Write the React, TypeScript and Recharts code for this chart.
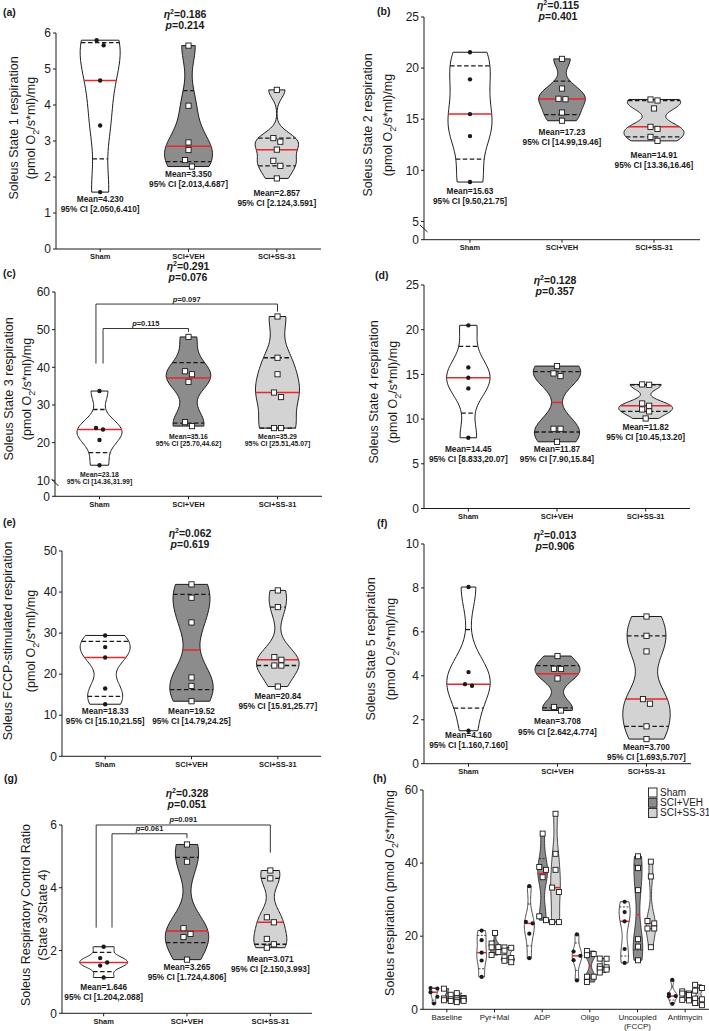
import React from 'react';
import { ComposedChart, Scatter, XAxis, YAxis } from 'recharts';

const GROUPS = ['Sham', 'SCI+VEH', 'SCI+SS-31'];
const STATES = ['Baseline', 'Pyr+Mal', 'ADP', 'Oligo', 'Uncoupled\n(FCCP)', 'Antimycin'];

// (a) State 1
const STATE1_SHAM = [5.8, 5.66, 4.68, 3.43, 1.58];
const STATE1_VEH = [5.65, 3.98, 2.96, 2.75, 2.47, 2.29];
const STATE1_SS31 = [4.42, 3.08, 2.98, 2.76, 2.45, 2.31, 1.96];
// (b) State 2
const STATE2_SHAM = [21.55, 18.9, 15.5, 13.35, 8.85];
const STATE2_VEH = [20.9, 18.0, 17.0, 16.95, 15.65, 14.85];
const STATE2_SS31 = [16.93, 16.83, 16.05, 14.25, 14.05, 13.27, 12.88];
// (c) State 3
const STATE3_SHAM = [33.7, 23.9, 23.5, 20.7, 14.0];
const STATE3_VEH = [48.07, 38.95, 38.16, 36.14, 25.44, 24.39];
const STATE3_SS31 = [53.5, 42.54, 38.16, 33.3, 32.1, 23.86, 23.86];
// (d) State 4
const STATE4_SHAM = [20.49, 15.78, 14.63, 13.43, 7.91];
const STATE4_VEH = [15.93, 15.11, 14.81, 8.92, 8.92, 7.46];
const STATE4_SS31 = [13.88, 13.84, 11.75, 11.49, 11.08, 10.86, 10.07];
// (e) FCCP
const FCCP_SHAM = [29.43, 26.59, 24.07, 16.5, 12.68];
const FCCP_VEH = [41.87, 38.62, 32.6, 19.19, 17.15, 13.41];
const FCCP_SS31 = [40.4, 36.34, 24.15, 23.5, 22.11, 22.11, 16.99];
// (f) State 5
const STATE5_SHAM = [8.04, 4.17, 3.62, 3.55, 1.5];
const STATE5_VEH = [4.9, 4.32, 4.31, 3.88, 2.58, 2.42];
const STATE5_SS31 = [6.7, 5.82, 5.11, 2.94, 2.73, 1.7, 1.12];
// (g) RCR
const RCR_SHAM = [2.12, 1.76, 1.62, 1.52, 1.14];
const RCR_VEH = [5.38, 4.83, 2.71, 2.53, 2.43, 1.71];
const RCR_SS31 = [4.55, 4.3, 3.06, 2.9, 2.37, 2.2, 2.09];

const STATE1_MEAN = ['4.230', '3.350', '2.857'];
const STATE1_CI = ['2.050,6.410', '2.013,4.687', '2.124,3.591'];
const STATE2_MEAN = ['15.63', '17.23', '14.91'];
const STATE2_CI = ['9.50,21.75', '14.99,19.46', '13.36,16.46'];
const STATE3_MEAN = ['23.18', '35.16', '35.29'];
const STATE3_CI = ['14.36,31.99', '25.70,44.62', '25.51,45.07'];
const STATE4_MEAN = ['14.45', '11.87', '11.82'];
const STATE4_CI = ['8.833,20.07', '7.90,15.84', '10.45,13.20'];
const FCCP_MEAN = ['18.33', '19.52', '20.84'];
const FCCP_CI = ['15.10,21.55', '14.79,24.25', '15.91,25.77'];
const STATE5_MEAN = ['4.160', '3.708', '3.700'];
const STATE5_CI = ['1.160,7.160', '2.642,4.774', '1.693,5.707'];
const RCR_MEAN = ['1.646', '3.265', '3.071'];
const RCR_CI = ['1.204,2.088', '1.724,4.806', '2.150,3.993'];

const ETA_SQ = ['0.186', '0.115', '0.291', '0.128', '0.062', '0.013', '0.328'];
const P_VALUES = ['0.214', '0.401', '0.076', '0.357', '0.619', '0.906', '0.051'];

const FONT = '"Liberation Sans", Arial, Helvetica, sans-serif';
const INK = '#1a1a1a';
const RED = '#e8262b';
const FILLS = ['#ffffff', '#8c8c8c', '#d3d3d3'];
const BW_FACTOR = 0.65;
const STEPS = 60;

const quantile = (s: number[], p: number) => {
    const n = s.length;
    const pos = (n + 1) * p;
    if (pos <= 1) return s[0];
    if (pos >= n) return s[n - 1];
    const lo = Math.floor(pos);
    return s[lo - 1] + (pos - lo) * (s[lo] - s[lo - 1]);
};

// kernel density, truncated at min/max like Prism
function violinStats(values: number[]) {
    const s = [...values].sort((a, b) => a - b);
    const n = s.length;
    const mean = s.reduce((a, b) => a + b, 0) / n;
    const sd = Math.sqrt(s.reduce((a, b) => a + (b - mean) ** 2, 0) / (n - 1));
    const q1 = quantile(s, 0.25);
    const med = quantile(s, 0.5);
    const q3 = quantile(s, 0.75);
    const spread = Math.min(sd, (q3 - q1) / 1.34) || sd;
    const h = BW_FACTOR * 0.9 * spread * Math.pow(n, -0.2);
    const dens = (v: number) => s.reduce((a, x) => a + Math.exp(-0.5 * ((v - x) / h) ** 2), 0);
    const lo = s[0];
    const hi = s[n - 1];
    const ys = Array.from({ length: STEPS + 1 }, (_, i) => lo + ((hi - lo) * i) / STEPS);
    const dmax = Math.max(...ys.map(dens));
    return { q1, med, q3, ys, rel: (v: number) => dens(v) / dmax };
}

// push apart markers that would overlap
function dodge(values: number[], pxY: number, step: number) {
    const idx = values.map((_, i) => i).sort((a, b) => values[b] - values[a]);
    const off = values.map(() => 0);
    for (let k = 1; k < idx.length; k++) {
        const cur = idx[k];
        const prev = idx[k - 1];
        if ((values[prev] - values[cur]) * pxY < step - 0.5) {
            if (off[prev] === 0) {
                off[prev] = -step / 2;
                off[cur] = step / 2;
            } else {
                off[cur] = -off[prev];
            }
        }
    }
    return off;
}

const Hidden = () => <g />;

const PANELS = [
    {
        groups: [STATE1_SHAM, STATE1_VEH, STATE1_SS31], means: STATE1_MEAN, cis: STATE1_CI,
        plot: { x: 55.5, y: 32.7, w: 265, h: 216 }, yDomain: [0, 6], yTicks: [0, 1, 2, 3, 4, 5, 6], broken: false,
        halfW: [20, 24, 21.7], labelAt: [1.38, 2.07, 1.55], labelGap: 10, labelSize: 8.3, brackets: [],
    },
    {
        groups: [STATE2_SHAM, STATE2_VEH, STATE2_SS31], means: STATE2_MEAN, cis: STATE2_CI,
        plot: { x: 424, y: 17.3, w: 276, h: 222.7 }, yDomain: [3.21, 25], yTicks: [3.21, 5, 10, 15, 20, 25], broken: true,
        halfW: [22, 23.3, 30], labelAt: [7.94, 13.71, 11.53], labelGap: 10, labelSize: 8.3, brackets: [],
    },
    {
        groups: [STATE3_SHAM, STATE3_VEH, STATE3_SS31], means: STATE3_MEAN, cis: STATE3_CI,
        plot: { x: 55, y: 291.7, w: 267, h: 204.3 }, yDomain: [5.75, 60], yTicks: [5.75, 10, 20, 30, 40, 50, 60], broken: true,
        halfW: [22.5, 22.3, 22], labelAt: [11.6, 21.7, 21.7], labelGap: 7.7, labelSize: 6.9,
        brackets: [
            { a: 0, b: 1, dxa: 0.04, dxb: 0, top: 50.3, footA: 41, footB: 49.4, p: '0.115' },
            { a: 0, b: 2, dxa: -0.04, dxb: 0, top: 56.8, footA: 41, footB: 54.8, p: '0.097' },
        ],
    },
    {
        groups: [STATE4_SHAM, STATE4_VEH, STATE4_SS31], means: STATE4_MEAN, cis: STATE4_CI,
        plot: { x: 423.5, y: 285, w: 266, h: 223.5 }, yDomain: [0, 25], yTicks: [0, 5, 10, 15, 20, 25], broken: false,
        halfW: [21.7, 23.7, 27], labelAt: [6.62, 6.62, 9.08], labelGap: 10, labelSize: 8.3, brackets: [],
    },
    {
        groups: [FCCP_SHAM, FCCP_VEH, FCCP_SS31], means: FCCP_MEAN, cis: FCCP_CI,
        plot: { x: 62, y: 550.7, w: 259, h: 205.3 }, yDomain: [0, 50], yTicks: [0, 10, 20, 30, 40, 50], broken: false,
        halfW: [25, 21.7, 21.3], labelAt: [11.03, 11.03, 14.6], labelGap: 10, labelSize: 8.3, brackets: [],
    },
    {
        groups: [STATE5_SHAM, STATE5_VEH, STATE5_SS31], means: STATE5_MEAN, cis: STATE5_CI,
        plot: { x: 423.5, y: 544.3, w: 267, h: 219.7 }, yDomain: [0, 10], yTicks: [0, 2, 4, 6, 8, 10], broken: false,
        halfW: [21.7, 22.5, 23.7], labelAt: [1.32, 1.93, 0.76], labelGap: 10.5, labelSize: 8.3, brackets: [],
    },
    {
        groups: [RCR_SHAM, RCR_VEH, RCR_SS31], means: RCR_MEAN, cis: RCR_CI,
        plot: { x: 62, y: 825, w: 250, h: 188.3 }, yDomain: [0, 6], yTicks: [0, 2, 4, 6], broken: false,
        halfW: [24, 21.7, 16.5], labelAt: [0.83, 1.47, 1.72], labelGap: 10, labelSize: 8.3,
        brackets: [
            { a: 0, b: 1, dxa: 0.1, dxb: 0, top: 5.72, footA: 2.73, footB: 5.58, p: '0.061' },
            { a: 0, b: 2, dxa: -0.09, dxb: 0, top: 6.0, footA: 2.73, footB: 5.12, p: '0.091' },
        ],
    },
];

const SUMMARY_OFFSETS = [-0.27, 0.01, 0.28];

const dotShape = (r: number) => (p: any) => <circle cx={p.cx} cy={p.cy} r={r} fill={INK} />;
const squareShape = (s: number) => (p: any) => (
    <rect x={p.cx - s / 2} y={p.cy - s / 2} width={s} height={s} fill="#fff" stroke={INK} strokeWidth={0.9} />
);

const noteShape = (size: number, gap: number) => (p: any) => {
    const d = p.payload;
    if (d.p) {
        return (
            <text x={p.cx} y={p.cy - 2.5} textAnchor="middle" fontSize={7.5} fontWeight="bold" fill={INK} fontFamily={FONT}>
                <tspan fontStyle="italic">p</tspan>={d.p}
            </text>
        );
    }
    return (
        <g>
            <text x={p.cx} y={p.cy} dy="0.35em" textAnchor="middle" fontSize={size} fontWeight="bold" fill={INK} fontFamily={FONT}>
                Mean={d.mean}
            </text>
            <text x={p.cx} y={p.cy + gap} dy="0.35em" textAnchor="middle" fontSize={size} fontWeight="bold" fill={INK} fontFamily={FONT}>
                95% CI [{d.ci}]
            </text>
        </g>
    );
};

const makeTick = (labels: string[], size: number, bold: boolean) => (props: any) => {
    const { x, y, payload } = props;
    const lines = (labels[Math.round(payload.value)] || '').split('\n');
    return (
        <text x={x} y={y} textAnchor="middle" fontSize={size} fontWeight={bold ? 'bold' : 'normal'} fill={INK} fontFamily={FONT}>
            {lines.map((l, i) => (
                <tspan key={i} x={x} dy={i === 0 ? '0.7em' : '1.15em'}>{l}</tspan>
            ))}
        </text>
    );
};

type Violin = { center: number; values: number[]; fill: string; square: boolean; halfPx: number };

function ViolinChart(props: any) {
    const { plot, xDomain, yDomain, yTicks, broken, labels, tickSize, tickBold, violins, notes, brackets, noteSize, noteGap, marker, thin } = props;
    const YW = 50, TOP = 24, RIGHT = 8, XH = 34;
    const pxX = plot.w / (xDomain[1] - xDomain[0]);
    const pxY = plot.h / (yDomain[1] - yDomain[0]);
    const items: any[] = [];

    violins.forEach((v: Violin, vi: number) => {
        const st = violinStats(v.values);
        const hw = (val: number) => (v.halfPx * st.rel(val)) / pxX;
        const right = st.ys.map((y) => ({ x: v.center + hw(y), y }));
        const left = [...st.ys].reverse().map((y) => ({ x: v.center - hw(y), y }));
        const seg = (val: number) => [{ x: v.center - hw(val), y: val }, { x: v.center + hw(val), y: val }];
        items.push(
            <Scatter key={`v${vi}`} data={[...right, ...left, right[0]]} shape={Hidden} isAnimationActive={false}
                line={{ stroke: INK, strokeWidth: thin ? 0.8 : 1, fill: v.fill }} />
        );
        [st.q1, st.q3].forEach((q, qi) => {
            items.push(
                <Scatter key={`q${vi}-${qi}`} data={seg(q)} shape={Hidden} isAnimationActive={false}
                    line={{ stroke: INK, strokeWidth: thin ? 0.8 : 1.3, strokeDasharray: thin ? '2 1.5' : '4.5 2.5' }} />
            );
        });
        items.push(
            <Scatter key={`m${vi}`} data={seg(st.med)} shape={Hidden} isAnimationActive={false}
                line={{ stroke: RED, strokeWidth: 1.5 }} />
        );
        const offs = dodge(v.values, pxY, marker + 1.8);
        const pts = v.values.map((y, i) => ({ x: v.center + offs[i] / pxX, y }));
        items.push(
            <Scatter key={`p${vi}`} data={pts} isAnimationActive={false}
                shape={v.square ? squareShape(marker) : dotShape(marker * 0.42)} />
        );
    });

    (brackets || []).forEach((b: any, bi: number) => {
        const xa = b.a + b.dxa;
        const xb = b.b + b.dxb;
        items.push(
            <Scatter key={`b${bi}`} shape={Hidden} isAnimationActive={false}
                data={[{ x: xa, y: b.footA }, { x: xa, y: b.top }, { x: xb, y: b.top }, { x: xb, y: b.footB }]}
                line={{ stroke: '#333', strokeWidth: 1 }} />
        );
    });
    const bracketNotes = (brackets || []).map((b: any) => ({ x: (b.a + b.dxa + b.b + b.dxb) / 2, y: b.top, p: b.p }));
    const allNotes = [...(notes || []), ...bracketNotes];
    if (allNotes.length) {
        items.push(
            <Scatter key="notes" data={allNotes} isAnimationActive={false} shape={noteShape(noteSize, noteGap)} />
        );
    }

    return (
        <div style={{ position: 'absolute', left: plot.x - YW, top: plot.y - TOP }}>
            <ComposedChart width={plot.w + YW + RIGHT} height={plot.h + TOP + XH} margin={{ top: TOP, right: RIGHT, bottom: 0, left: 0 }}>
                <XAxis type="number" dataKey="x" domain={xDomain} ticks={labels.map((_: string, i: number) => i)} interval={0}
                    height={XH} tickSize={3} tickMargin={2} tick={makeTick(labels, tickSize, tickBold)}
                    axisLine={{ stroke: INK }} tickLine={{ stroke: INK }} />
                <YAxis type="number" dataKey="y" domain={yDomain} ticks={yTicks} interval={0} width={YW}
                    tickSize={3} tickMargin={2} tick={{ fontSize: 12, fill: INK, fontFamily: FONT }}
                    tickFormatter={(t: number) => (broken && t === yDomain[0] ? '0' : String(t))}
                    axisLine={{ stroke: INK }} tickLine={{ stroke: INK }} />
                {items}
            </ComposedChart>
        </div>
    );
}

const UNIT = 'unit';
const PANEL_TEXT = [
    { letter: '(a)', lx: 3, ly: 15.5, tx: 185, ty: 17.5, ylab: ['Soleus State 1 respiration', UNIT], yx: [14, 31], ycy: 128 },
    { letter: '(b)', lx: 377, ly: 15, tx: 558, ty: 9.2, ylab: ['Soleus State 2 respiration', UNIT], yx: [368, 388], ycy: 125 },
    { letter: '(c)', lx: 3, ly: 277, tx: 188, ty: 270.2, ylab: ['Soleus State 3 respiration', UNIT], yx: [9, 27], ycy: 389 },
    { letter: '(d)', lx: 375, ly: 279, tx: 555, ty: 284.2, ylab: ['Soleus State 4 respiration', UNIT], yx: [374, 393], ycy: 392 },
    { letter: '(e)', lx: 3, ly: 526, tx: 190, ty: 536.5, ylab: ['Soleus FCCP-stimulated respiration', UNIT], yx: [8, 31], ycy: 641 },
    { letter: '(f)', lx: 377, ly: 527, tx: 555, ty: 538.5, ylab: ['Soleus State 5 respiration', UNIT], yx: [371, 391], ycy: 649 },
    { letter: '(g)', lx: 4, ly: 782, tx: 187, ty: 796.5, ylab: ['Soleus Respiratory Control Ratio', '(State 3/State 4)'], yx: [26, 43], ycy: 915 },
];

const UnitTspans = ({ size }: { size: number }) => (
    <>
        <tspan>(pmol O</tspan>
        <tspan dy={size * 0.3} fontSize={size * 0.72}>2</tspan>
        <tspan dy={-size * 0.3}>/s*ml)/mg</tspan>
    </>
);

function Overlay() {
    return (
        <svg width={709} height={1031} style={{ position: 'absolute', left: 0, top: 0, pointerEvents: 'none' }} fontFamily={FONT}>
            {PANEL_TEXT.map((t, i) => (
                <g key={i} fill={INK}>
                    <text x={t.lx} y={t.ly} fontSize={10.5} fontWeight="bold">{t.letter}</text>
                    <text x={t.tx} y={t.ty} textAnchor="middle" fontSize={10.5} fontWeight="bold">
                        <tspan fontStyle="italic">η</tspan>
                        <tspan dy={-4} fontSize={7}>2</tspan>
                        <tspan dy={4}>={ETA_SQ[i]}</tspan>
                    </text>
                    <text x={t.tx} y={t.ty + 11} textAnchor="middle" fontSize={10.5} fontWeight="bold">
                        <tspan fontStyle="italic">p</tspan>={P_VALUES[i]}
                    </text>
                    {t.ylab.map((line, li) => (
                        <text key={li} transform={`translate(${t.yx[li]},${t.ycy}) rotate(-90)`} textAnchor="middle" dy="0.35em" fontSize={12.5}>
                            {line === UNIT ? <UnitTspans size={12.5} /> : line}
                        </text>
                    ))}
                </g>
            ))}
            <text x={373} y={782} fontSize={10.5} fontWeight="bold" fill={INK}>(h)</text>
            <text transform="translate(390,893) rotate(-90)" textAnchor="middle" dy="0.35em" fontSize={12.5} fill={INK}>
                <tspan>Soleus respiration </tspan>
                <UnitTspans size={12.5} />
            </text>
            {/* axis breaks */}
            <line x1={420} y1={225} x2={427.5} y2={232} stroke={INK} strokeWidth={1} />
            <line x1={51.5} y1={479} x2={58.5} y2={486} stroke={INK} strokeWidth={1} />
            {/* legend (h) */}
            {GROUPS.map((g, i) => (
                <g key={g}>
                    <rect x={648.5} y={788 + i * 10.2} width={8.5} height={9} fill={FILLS[i]} stroke={INK} strokeWidth={0.9} />
                    <text x={660} y={796 + i * 10.2} fontSize={10} fill={INK}>{g}</text>
                </g>
            ))}
        </svg>
    );
}

export default function App() {
    // panel (h) reuses the six respiration states (a)-(f)
    const summaryViolins: Violin[] = [];
    STATES.forEach((_, s) => {
        PANELS[s].groups.forEach((vals, g) => {
            summaryViolins.push({
                center: s + SUMMARY_OFFSETS[g], values: vals, fill: FILLS[g], square: g > 0,
                halfPx: PANELS[s].halfW[g] * 0.22,
            });
        });
    });

    return (
        <div style={{ position: 'absolute', left: 0, top: 0, width: 709, height: 1031, overflow: 'hidden', background: '#fff', fontFamily: FONT }}>
            {PANELS.map((p, i) => (
                <ViolinChart key={i} plot={p.plot} xDomain={[-0.5, 2.5]} yDomain={p.yDomain} yTicks={p.yTicks} broken={p.broken}
                    labels={GROUPS} tickSize={7.5} tickBold
                    violins={p.groups.map((vals, g) => ({ center: g, values: vals, fill: FILLS[g], square: g > 0, halfPx: p.halfW[g] }))}
                    notes={p.groups.map((_, g) => ({ x: g, y: p.labelAt[g], mean: p.means[g], ci: p.cis[g] }))}
                    noteSize={p.labelSize} noteGap={p.labelGap} brackets={p.brackets} marker={5.2} />
            ))}
            <ViolinChart plot={{ x: 423, y: 790, w: 286, h: 219.3 }} xDomain={[-0.5, 5.5]} yDomain={[0, 60]} yTicks={[0, 20, 40, 60]}
                broken={false} labels={STATES} tickSize={8} tickBold={false} violins={summaryViolins} notes={[]} brackets={[]}
                noteSize={8} noteGap={10} marker={5} thin />
            <Overlay />
        </div>
    );
}
